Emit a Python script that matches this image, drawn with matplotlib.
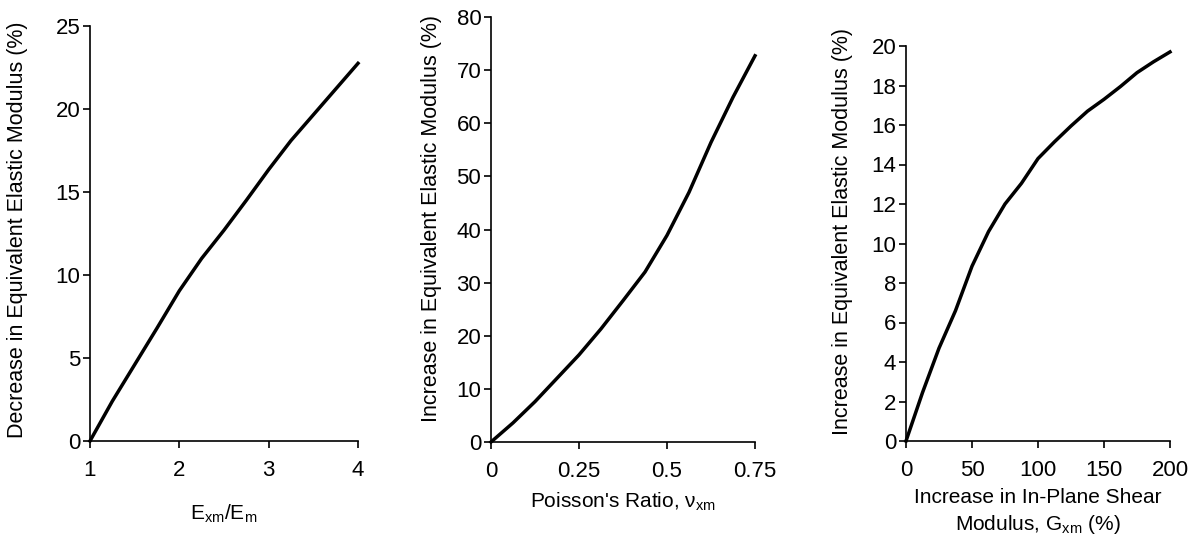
import matplotlib
matplotlib.use("Agg")
import matplotlib.pyplot as plt
from matplotlib.transforms import Bbox, TransformedBbox

plt.rcParams["font.family"] = ["Liberation Sans", "DejaVu Sans"]
plt.rcParams["mathtext.fontset"] = "custom"
plt.rcParams["mathtext.rm"] = "Liberation Sans"
plt.rcParams["font.size"] = 16

# panel 1: modulus ratio vs decrease in equivalent modulus
ratio = [1.0, 1.25, 1.5, 1.75, 2.0, 2.25, 2.5, 2.75, 3.0, 3.25, 3.5, 3.75, 4.0]
decrease = [0.0, 2.4, 4.6, 6.8, 9.05, 11.0, 12.7, 14.5, 16.35, 18.1, 19.65, 21.2, 22.75]

# panel 2: Poisson's ratio vs increase
poisson = [0.0, 0.0625, 0.125, 0.1875, 0.25, 0.3125, 0.375, 0.4375, 0.5, 0.5625, 0.625, 0.6875, 0.75]
inc_poisson = [0.0, 3.6, 7.6, 12.0, 16.4, 21.3, 26.6, 32.0, 38.9, 47.0, 56.4, 64.9, 72.7]

# panel 3: shear modulus increase vs increase
shear = [0, 12.5, 25, 37.5, 50, 62.5, 75, 87.5, 100, 112.5, 125, 137.5, 150, 162.5, 175, 187.5, 200]
inc_shear = [0.0, 2.45, 4.7, 6.6, 8.85, 10.6, 12.0, 13.05, 14.3, 15.15, 15.95, 16.7,
             17.3, 17.95, 18.65, 19.2, 19.7]

W, H = 1194, 542
fig = plt.figure(figsize=(W / 100, H / 100), dpi=100)


def make_axes(left, right, top, bottom):
    return fig.add_axes([left / W, (H - bottom) / H, (right - left) / W, (bottom - top) / H])


def style(ax, ylab_x, ylab_y, xlab_y, clip_top):
    ax.spines["top"].set_visible(False)
    ax.spines["right"].set_visible(False)
    for s in ["left", "bottom"]:
        ax.spines[s].set_linewidth(1.2)
    ax.tick_params(direction="out", length=5, width=1.2)
    ax.tick_params(axis="x", pad=9)
    ax.tick_params(axis="y", pad=2)
    ax.yaxis.set_label_coords(ylab_x, ylab_y)
    ax.xaxis.label.set_va("center")
    ax.xaxis.set_label_coords(0.5, xlab_y)
    # the original panels were cut off at the top, clipping the y label
    lab = ax.yaxis.label
    lab.set_clip_box(TransformedBbox(Bbox([[0, 0], [1, (H - clip_top) / H]]), fig.transFigure))
    lab.set_clip_on(True)


ax1 = make_axes(90, 358, 26, 441)
ax1.plot(ratio, decrease, color="black", lw=2.5, clip_on=False)
ax1.set_xlim(1, 4)
ax1.set_ylim(0, 25)
ax1.set_xticks([1, 2, 3, 4])
ax1.set_yticks([0, 5, 10, 15, 20, 25])
ax1.set_xlabel(r"$\mathregular{E_{xm}/E_m}$", fontsize=15)
ax1.set_ylabel("Decrease in Equivalent Elastic Modulus (%)", loc="bottom", fontsize=15.5)
style(ax1, -0.231, 0.007, -0.176, 20)

ax2 = make_axes(491, 755, 17, 442)
ax2.plot(poisson, inc_poisson, color="black", lw=2.5, clip_on=False)
ax2.set_xlim(0, 0.75)
ax2.set_ylim(0, 80)
ax2.set_xticks([0, 0.25, 0.5, 0.75])
ax2.set_xticklabels(["0", "0.25", "0.5", "0.75"])
ax2.set_yticks(range(0, 81, 10))
ax2.set_xlabel("Poisson's Ratio, $\\mathregular{ν_{xm}}$", fontsize=15)
ax2.set_ylabel("Increase in Equivalent Elastic Modulus (%)", loc="bottom", fontsize=15.5)
style(ax2, -0.186, 0.046, -0.14, 12)

ax3 = make_axes(906, 1170, 46, 441)
ax3.plot(shear, inc_shear, color="black", lw=2.5, clip_on=False)
ax3.set_xlim(0, 200)
ax3.set_ylim(0, 20)
ax3.set_xticks([0, 50, 100, 150, 200])
ax3.set_yticks(range(0, 21, 2))
ax3.set_xlabel("Increase in In-Plane Shear\nModulus, $\\mathregular{G_{xm}}$ (%)", fontsize=15,
               linespacing=1.4)
ax3.set_ylabel("Increase in Equivalent Elastic Modulus (%)", loc="bottom", fontsize=15.5)
style(ax3, -0.2, 0.015, -0.18, 25)

fig.savefig("out.png", dpi=100)
